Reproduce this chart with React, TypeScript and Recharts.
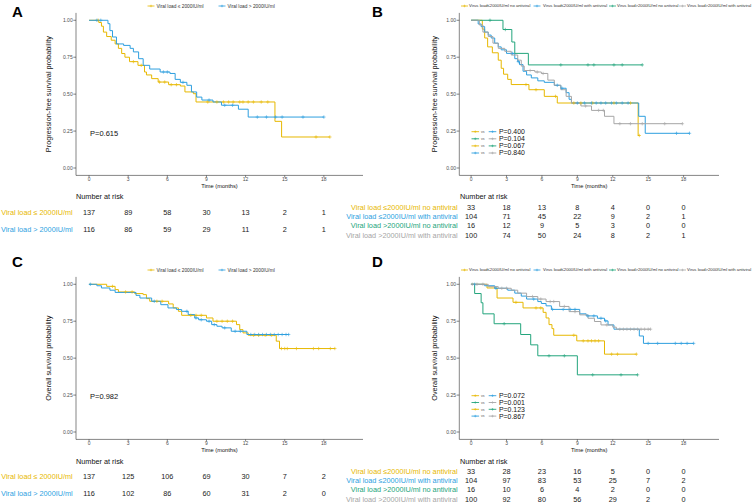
import { LineChart, Line, XAxis, YAxis, ScatterChart, Scatter } from "recharts"

const YELLOW = "#E7B800"
const BLUE = "#2E9FDF"
const GREEN = "#23A57C"
const GRAY = "#A6A6A6"

const timeTicks = [0, 3, 6, 9, 12, 15, 18]
const probTicks = [0, 0.25, 0.5, 0.75, 1]

type Step = [number, number]

// A: progression-free survival by viral load
const pfsLowSteps: Step[] = [[0, 1], [0.75, 0.985], [0.95, 0.96], [1.1, 0.92], [1.35, 0.89], [1.7, 0.865], [2.0, 0.84], [2.25, 0.81], [2.5, 0.775], [2.75, 0.75], [3.1, 0.72], [3.75, 0.695], [4.25, 0.65], [4.4, 0.63], [4.8, 0.605], [5.3, 0.582], [6.1, 0.564], [7.0, 0.555], [7.35, 0.515], [8.0, 0.503], [8.2, 0.447], [14.25, 0.316], [14.76, 0.21]]
const pfsLowCensor = [0.7, 3.4, 4.0, 5.4, 5.8, 6.3, 6.7, 9.1, 9.8, 10.3, 10.7, 11.05, 11.55, 11.8, 12.2, 12.6, 13.2, 13.7, 17.4, 18.46]
const pfsHighSteps: Step[] = [[0, 1], [1.45, 0.977], [1.6, 0.93], [1.8, 0.887], [2.1, 0.84], [2.65, 0.83], [3.15, 0.81], [3.4, 0.786], [3.8, 0.74], [4.15, 0.695], [4.65, 0.67], [5.45, 0.65], [6.2, 0.64], [6.6, 0.6], [7.0, 0.58], [7.5, 0.56], [7.85, 0.515], [8.25, 0.48], [8.65, 0.46], [9.5, 0.447], [10.15, 0.425], [11.45, 0.398], [12.2, 0.345]]
const pfsHighCensor = [0.6, 0.9, 5.7, 6.0, 7.2, 9.2, 10.4, 11.0, 12.9, 13.6, 14.3, 14.8, 16.4, 18.0]

// B: progression-free survival by viral load and antiviral
const pfsLowNoAvSteps: Step[] = [[0, 1], [0.95, 0.94], [1.15, 0.88], [1.4, 0.82], [1.8, 0.78], [2.3, 0.73], [2.55, 0.675], [2.75, 0.635], [3.1, 0.6], [3.4, 0.565], [4.9, 0.53], [6.2, 0.485], [7.3, 0.44], [14.15, 0.22]]
const pfsLowNoAvCensor = [4.65, 5.5, 7.15, 8.7, 9.3, 10.3, 12.1, 13.5, 14.25]
const pfsLowAvSteps: Step[] = [[0, 1], [0.6, 0.975], [0.85, 0.957], [1.15, 0.92], [1.45, 0.9], [1.7, 0.88], [2.0, 0.845], [2.3, 0.82], [2.55, 0.8], [3.0, 0.776], [3.7, 0.74], [3.95, 0.72], [4.1, 0.7], [4.4, 0.655], [4.7, 0.63], [5.1, 0.61], [5.65, 0.59], [6.2, 0.58], [7.05, 0.56], [7.6, 0.54], [8.05, 0.51], [8.3, 0.465], [8.5, 0.44], [14.2, 0.35], [14.75, 0.235]]
const pfsLowAvCensor = [3.5, 4.0, 7.3, 7.7, 9.0, 9.6, 10.2, 10.6, 11.0, 11.4, 11.9, 12.3, 12.8, 13.3, 17.4, 18.5]
const pfsHighNoAvSteps: Step[] = [[0, 1], [2.7, 0.9375], [3.45, 0.853], [3.7, 0.776], [4.85, 0.698]]
const pfsHighNoAvCensor = [1.6, 2.9, 7.6, 9.9, 10.4, 12.1, 12.8, 14.5]
const pfsHighAvSteps: Step[] = [[0, 1], [0.7, 0.968], [1.0, 0.92], [1.45, 0.89], [1.85, 0.845], [2.3, 0.81], [2.85, 0.79], [3.4, 0.765], [3.95, 0.73], [4.25, 0.69], [4.5, 0.66], [5.4, 0.65], [5.95, 0.64], [6.5, 0.595], [7.05, 0.56], [7.6, 0.53], [8.05, 0.485], [8.5, 0.44], [9.3, 0.42], [10.2, 0.39], [11.3, 0.35], [12.1, 0.3]]
const pfsHighAvCensor = [5.0, 5.6, 6.1, 9.7, 10.8, 11.2, 12.6, 13.5, 14.5, 16.4, 17.9]

// C: overall survival by viral load
const osLowSteps: Step[] = [[0, 1], [1.35, 0.986], [2.0, 0.964], [2.25, 0.948], [3.5, 0.937], [4.15, 0.93], [4.4, 0.903], [4.65, 0.885], [6.1, 0.867], [6.45, 0.84], [6.85, 0.817], [7.1, 0.79], [9.0, 0.772], [9.5, 0.75], [11.3, 0.727], [11.55, 0.693], [11.8, 0.671], [12.2, 0.655], [14.35, 0.615], [14.6, 0.565]]
const osLowCensor = [1.8, 2.8, 3.3, 5.2, 5.6, 7.8, 8.2, 8.6, 9.8, 10.2, 10.6, 11.0, 12.6, 13.0, 13.5, 14.0, 14.75, 15.0, 15.2, 15.9, 17.2, 17.6, 18.5, 18.84]
const osHighSteps: Step[] = [[0, 1], [0.6, 0.99], [0.95, 0.975], [1.6, 0.96], [2.0, 0.945], [3.6, 0.925], [3.9, 0.907], [4.8, 0.885], [5.5, 0.862], [6.05, 0.84], [6.7, 0.829], [7.1, 0.817], [7.6, 0.795], [8.1, 0.772], [8.4, 0.76], [9.0, 0.75], [9.4, 0.727], [9.8, 0.716], [10.2, 0.705], [10.9, 0.682], [12.1, 0.66]]
const osHighCensor = [0.1, 5.0, 7.5, 8.2, 8.6, 9.2, 9.6, 10.4, 11.2, 11.6, 12.4, 12.7, 13.0, 13.3, 13.6, 13.9, 14.2, 14.5, 14.8, 15.1, 15.3]

// D: overall survival by viral load and antiviral
const osLowNoAvSteps: Step[] = [[0, 1], [1.35, 0.975], [2.2, 0.907], [3.55, 0.878], [4.4, 0.84], [6.1, 0.81], [6.35, 0.772], [6.6, 0.727], [6.85, 0.7], [7.0, 0.655], [8.95, 0.617], [11.3, 0.527]]
const osLowNoAvCensor = [3.8, 5.5, 5.9, 8.7, 9.5, 9.9, 10.2, 10.5, 10.8, 11.9, 12.4, 14.0]
const osLowAvSteps: Step[] = [[0, 1], [1.15, 0.99], [2.0, 0.973], [3.1, 0.96], [3.7, 0.94], [4.25, 0.92], [4.7, 0.9], [5.65, 0.883], [5.95, 0.87], [6.35, 0.854], [6.8, 0.83], [9.2, 0.8], [9.75, 0.786], [10.7, 0.77], [11.3, 0.752], [11.6, 0.725], [12.1, 0.696], [14.25, 0.65], [14.6, 0.6]]
const osLowAvCensor = [0.3, 2.1, 5.3, 6.9, 7.8, 8.4, 8.8, 9.9, 10.4, 11.0, 11.4, 15.0, 15.8, 17.3, 17.8, 18.3, 18.85]
const osHighNoAvSteps: Step[] = [[0, 1], [0.3, 0.9375], [0.85, 0.875], [1.0, 0.8], [1.95, 0.733], [4.2, 0.66], [5.05, 0.59], [5.65, 0.516], [9.0, 0.387]]
const osHighNoAvCensor = [2.8, 6.6, 7.9, 10.3, 12.7, 14.1]
const osHighAvSteps: Step[] = [[0, 1], [1.45, 0.984], [2.3, 0.973], [3.4, 0.96], [3.95, 0.94], [4.7, 0.917], [5.65, 0.9], [6.35, 0.883], [7.5, 0.85], [8.3, 0.815], [9.2, 0.793], [9.9, 0.77], [10.45, 0.748], [11.0, 0.725], [12.0, 0.71], [12.3, 0.696]]
const osHighAvCensor = [0.1, 0.5, 1.0, 2.6, 3.0, 5.2, 5.9, 6.7, 7.0, 7.9, 8.8, 11.5, 12.6, 12.9, 13.2, 13.5, 13.8, 14.1, 14.4, 14.7, 15.0, 15.2]

// numbers at risk
const riskA = [[137, 89, 58, 30, 13, 2, 1], [116, 86, 59, 29, 11, 2, 1]]
const riskB = [[33, 18, 13, 8, 4, 0, 0], [104, 71, 45, 22, 9, 2, 1], [16, 12, 9, 5, 3, 0, 0], [100, 74, 50, 24, 8, 2, 1]]
const riskC = [[137, 125, 106, 69, 30, 7, 2], [116, 102, 86, 60, 31, 2, 0]]
const riskD = [[33, 28, 23, 16, 5, 0, 0], [104, 97, 83, 53, 25, 7, 2], [16, 10, 6, 4, 2, 0, 0], [100, 92, 80, 56, 29, 2, 0]]

const twoLegend = ["Viral load \u2264 2000IU/ml", "Viral load > 2000IU/ml"]
const twoRows = ["Viral load \u2264 2000IU/ml", "Viral load > 2000IU/ml"]
const fourLegend = ["Virus load\u22642000IU/ml no antiviral", "Virus load\u22642000IU/ml with antiviral", "Virus load>2000IU/ml no antiviral", "Virus load>2000IU/ml with antiviral"]
const fourRows = ["Viral load \u22642000IU/ml no antiviral", "Viral load \u22642000IU/ml with antiviral", "Viral load >2000IU/ml no antiviral", "Viral load >2000IU/ml with antiviral"]
const twoColors = [YELLOW, BLUE]
const fourColors = [YELLOW, BLUE, GREEN, GRAY]

// pairwise log-rank tests: [group, group, p]
const pairsB: [number, number, string][] = [[0, 1, "P=0.400"], [2, 3, "P=0.104"], [0, 2, "P=0.067"], [1, 3, "P=0.840"]]
const pairsD: [number, number, string][] = [[0, 1, "P=0.072"], [2, 3, "P=0.001"], [0, 2, "P=0.123"], [1, 3, "P=0.867"]]

interface Series { color: string; steps: Step[]; censor: number[] }

function survAt(steps: Step[], t: number) {
  let s = 1
  for (const [x, v] of steps) if (x <= t) s = v
  return s
}

function lineData(se: Series) {
  const pts = [
    ...se.steps.map(([t, s]) => ({ t, s, c: false })),
    ...se.censor.map((t) => ({ t, s: survAt(se.steps, t), c: true })),
  ]
  pts.sort((a, b) => a.t - b.t || (a.c ? 1 : -1))
  return pts
}

const plus = (x: number, y: number, r: number) => `M${x - r},${y}h${2 * r}M${x},${y - r}v${2 * r}`

function KMChart({ left, top, width, axisW, right, series, yLabel, labelX }: any) {
  return (
    <div style={{ position: "absolute", left, top }}>
      <LineChart width={width} height={200} margin={{ top: 12.9, right, bottom: 0, left: 0 }}>
        <XAxis
          type="number"
          dataKey="t"
          domain={[-1, 21]}
          ticks={timeTicks}
          allowDataOverflow
          height={24.6}
          stroke="#333"
          strokeWidth={0.6}
          tickSize={2}
          tickMargin={0}
          tick={{ fontSize: 5, fill: "#4d4d4d" }}
          label={{ value: "Time (months)", position: "insideBottom", offset: 12.3, fontSize: 5.7, fill: "#111" }}
        />
        <YAxis
          type="number"
          domain={[-0.05, 1.05]}
          ticks={probTicks}
          width={axisW}
          stroke="#333"
          strokeWidth={0.6}
          tickSize={2.7}
          tickMargin={0.6}
          tick={{ fontSize: 5, fill: "#4d4d4d" }}
          tickFormatter={(v: number) => v.toFixed(2)}
          label={{ value: yLabel, angle: -90, position: "insideLeft", offset: labelX, fontSize: 7.3, fill: "#111", style: { textAnchor: "middle" } }}
        />
        {series.map((se: Series, i: number) => (
          <Line
            key={i}
            data={lineData(se)}
            dataKey="s"
            type="stepAfter"
            stroke={se.color}
            strokeWidth={1}
            activeDot={false}
            isAnimationActive={false}
            dot={(p: any) =>
              p.payload.c ? (
                <path key={p.index} d={plus(p.cx, p.cy, 1.7)} stroke={se.color} strokeWidth={0.6} fill="none" />
              ) : (
                <g key={p.index} />
              )
            }
          />
        ))}
      </LineChart>
    </div>
  )
}

function RiskTable({ left, top, width, axisW, right, padTop, rowGap, labels, colors, counts, gap }: any) {
  const data = counts.flatMap((row: number[], i: number) => row.map((n, j) => ({ t: timeTicks[j], row: i, n })))
  const h = rowGap * counts.length
  return (
    <div style={{ position: "absolute", left, top }}>
      <ScatterChart width={width} height={padTop + h + 2} margin={{ top: padTop, right, bottom: 2, left: 0 }}>
        <XAxis type="number" dataKey="t" domain={[-1, 21]} hide />
        <YAxis
          type="number"
          dataKey="row"
          domain={[-0.5, counts.length - 0.5]}
          reversed
          ticks={counts.map((_: any, i: number) => i)}
          interval={0}
          width={axisW}
          axisLine={false}
          tickLine={false}
          tickSize={0}
          tickMargin={gap}
          tick={(p: any) => (
            <text key={p.index} x={p.x} y={p.y} dy="0.35em" textAnchor="end" fontSize={7.3} fill={colors[p.payload.value]}>
              {labels[p.payload.value]}
            </text>
          )}
        />
        <Scatter
          data={data}
          isAnimationActive={false}
          shape={(p: any) => (
            <text x={p.cx} y={p.cy} dy="0.35em" textAnchor="middle" fontSize={7.3} fill="#1a1a1a">
              {p.payload.n}
            </text>
          )}
        />
      </ScatterChart>
    </div>
  )
}

function LegendRow({ y, names, colors, marks, texts, size }: any) {
  return (
    <g>
      {names.map((n: string, i: number) => (
        <g key={i}>
          <line x1={marks[i] - 3.5} x2={marks[i] + 3.5} y1={y} y2={y} stroke={colors[i]} strokeWidth={0.8} />
          <path d={plus(marks[i], y, 1.3)} stroke={colors[i]} strokeWidth={0.5} />
          <text x={texts[i]} y={y} dy="0.35em" fontSize={size} fill="#333">{n}</text>
        </g>
      ))}
    </g>
  )
}

function PairTable({ y0, gap, pairs }: any) {
  const seg = (x: number, y: number, c: string) => (
    <g>
      <line x1={x - 3.8} x2={x + 3.8} y1={y} y2={y} stroke={c} strokeWidth={0.9} />
      <path d={plus(x, y, 1.3)} stroke={c} strokeWidth={0.5} />
    </g>
  )
  return (
    <g>
      {pairs.map(([a, b, p]: [number, number, string], i: number) => {
        const y = y0 + i * gap
        return (
          <g key={i}>
            {seg(475.3, y, fourColors[a])}
            <text x={481} y={y} dy="0.35em" fontSize={3.5} fill="#555">vs</text>
            {seg(492.5, y, fourColors[b])}
            <text x={499} y={y} dy="0.35em" fontSize={6.9} fill="#111">{p}</text>
          </g>
        )
      })}
    </g>
  )
}

const seriesA: Series[] = [
  { color: YELLOW, steps: pfsLowSteps, censor: pfsLowCensor },
  { color: BLUE, steps: pfsHighSteps, censor: pfsHighCensor },
]
const seriesB: Series[] = [
  { color: YELLOW, steps: pfsLowNoAvSteps, censor: pfsLowNoAvCensor },
  { color: BLUE, steps: pfsLowAvSteps, censor: pfsLowAvCensor },
  { color: GREEN, steps: pfsHighNoAvSteps, censor: pfsHighNoAvCensor },
  { color: GRAY, steps: pfsHighAvSteps, censor: pfsHighAvCensor },
]
const seriesC: Series[] = [
  { color: YELLOW, steps: osLowSteps, censor: osLowCensor },
  { color: BLUE, steps: osHighSteps, censor: osHighCensor },
]
const seriesD: Series[] = [
  { color: YELLOW, steps: osLowNoAvSteps, censor: osLowNoAvCensor },
  { color: BLUE, steps: osLowAvSteps, censor: osLowAvCensor },
  { color: GREEN, steps: osHighNoAvSteps, censor: osHighNoAvCensor },
  { color: GRAY, steps: osHighAvSteps, censor: osHighAvCensor },
]

const L = { left: 0, width: 380, axisW: 76, right: 17, labelX: 48 }
const R = { left: 376, width: 377, axisW: 83.3, right: 34, labelX: 58 }
// right-hand risk tables need room for their long row labels
const RT = { left: 296, width: 457, axisW: 163.3, right: 34 }

export default function App() {
  return (
    <div
      style={{
        position: "absolute",
        left: 0,
        top: 0,
        width: 753,
        height: 503,
        overflow: "hidden",
        background: "#fff",
        fontFamily: "'Liberation Sans', Arial, sans-serif",
      }}
    >
      <KMChart {...L} top={0} series={seriesA} yLabel="Progression-free survival probability" />
      <KMChart {...R} top={0} series={seriesB} yLabel="Progression-free survival probability" />
      <KMChart {...L} top={264} series={seriesC} yLabel="Overall survival probability" />
      <KMChart {...R} top={264} series={seriesD} yLabel="Overall survival probability" />

      <RiskTable {...L} top={195} padTop={8.6} rowGap={17.4} labels={twoRows} colors={twoColors} counts={riskA} gap={3.3} />
      <RiskTable {...RT} top={195} padTop={7.7} rowGap={9.23} labels={fourRows} colors={fourColors} counts={riskB} gap={1.6} />
      <RiskTable {...L} top={459} padTop={8.6} rowGap={17.4} labels={twoRows} colors={twoColors} counts={riskC} gap={3.3} />
      <RiskTable {...RT} top={459} padTop={7.7} rowGap={9.23} labels={fourRows} colors={fourColors} counts={riskD} gap={1.6} />

      <svg width={753} height={503} style={{ position: "absolute", left: 0, top: 0, pointerEvents: "none" }}>
        <g fontWeight="bold" fontSize={15} fill="#000">
          <text x={12} y={17}>A</text>
          <text x={372} y={17}>B</text>
          <text x={12} y={267}>C</text>
          <text x={372} y={267}>D</text>
        </g>
        <LegendRow y={6} names={twoLegend} colors={twoColors} marks={[151, 222]} texts={[156.5, 227.5]} size={4.8} />
        <LegendRow y={6} names={fourLegend} colors={fourColors} marks={[464.5, 537, 612.5, 682.5]} texts={[469, 543, 617, 687]} size={4.2} />
        <LegendRow y={270} names={twoLegend} colors={twoColors} marks={[151, 222]} texts={[156.5, 227.5]} size={4.8} />
        <LegendRow y={270} names={fourLegend} colors={fourColors} marks={[464.5, 537, 612.5, 682.5]} texts={[469, 543, 617, 687]} size={4.2} />

        <text x={90} y={133} dy="0.35em" fontSize={7.5} fill="#111">P=0.615</text>
        <text x={90} y={396.7} dy="0.35em" fontSize={7.5} fill="#111">P=0.982</text>
        <PairTable y0={131.7} gap={7.1} pairs={pairsB} />
        <PairTable y0={395.7} gap={6.8} pairs={pairsD} />

        <g fontSize={7.3} fill="#111">
          <text x={76} y={196.7} dy="0.35em">Number at risk</text>
          <text x={460} y={196.7} dy="0.35em">Number at risk</text>
          <text x={76} y={461} dy="0.35em">Number at risk</text>
          <text x={460} y={461} dy="0.35em">Number at risk</text>
        </g>
      </svg>
    </div>
  )
}
